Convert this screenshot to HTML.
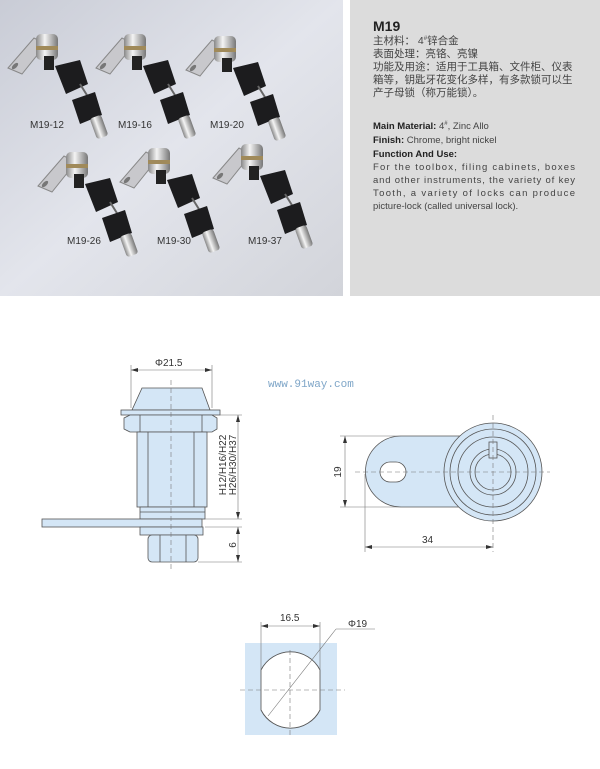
<!DOCTYPE html>
<html><head><meta charset="utf-8"><style>
body{margin:0;width:600px;height:769px;background:#fff;overflow:hidden;font-family:"Liberation Sans","Noto Sans CJK SC",sans-serif}
</style></head><body>
<svg width="600" height="769" viewBox="0 0 600 769" xmlns="http://www.w3.org/2000/svg" style="position:absolute;left:0;top:0">
<defs>
<linearGradient id="bg" x1="0" y1="0" x2="1" y2="1"><stop offset="0" stop-color="#c9ccd6"/><stop offset="0.5" stop-color="#e3e5ec"/><stop offset="1" stop-color="#d2d4da"/></linearGradient>
<linearGradient id="met" x1="0" y1="0" x2="1" y2="0"><stop offset="0" stop-color="#888"/><stop offset="0.4" stop-color="#f4f4f4"/><stop offset="1" stop-color="#777"/></linearGradient>
<g id="lock">
<path d="M8,68 L34,38 L46,44 L22,74 Z" fill="#c8c8cc" stroke="#888" stroke-width="1"/>
<ellipse cx="15" cy="66" rx="4" ry="2" fill="#777" transform="rotate(-45 15 66)"/>
<rect x="36" y="34" width="22" height="26" rx="5" fill="url(#met)"/>
<rect x="36" y="46" width="22" height="4" fill="#a08a5a"/>
<rect x="44" y="56" width="10" height="14" fill="#222"/>
<path d="M55,66 L80,60 L88,84 L66,94 Z" fill="#1c1c1e"/>
<line x1="80" y1="84" x2="90" y2="100" stroke="#666" stroke-width="2"/>
<path d="M72,100 L95,92 L102,115 L80,124 Z" fill="#1c1c1e"/>
<rect x="93" y="116" width="12" height="22" rx="3" fill="url(#met)" transform="rotate(-20 99 127)"/>
</g>
</defs>
<rect x="0" y="0" width="343" height="296" fill="url(#bg)"/>
<rect x="350" y="0" width="250" height="296" fill="#dcdcdc"/>
<use href="#lock" x="0" y="0"/>
<use href="#lock" x="88" y="0"/>
<use href="#lock" x="178" y="2"/>
<use href="#lock" x="30" y="118"/>
<use href="#lock" x="112" y="114"/>
<use href="#lock" x="205" y="110"/>
<g font-size="10" fill="#333">
<text x="30" y="128">M19-12</text><text x="118" y="128">M19-16</text><text x="210" y="128">M19-20</text>
<text x="67" y="244">M19-26</text><text x="157" y="244">M19-30</text><text x="248" y="244">M19-37</text>
</g>
<g fill="#444" font-size="10.5">
<text x="373" y="31" font-size="14" font-weight="bold" fill="#222">M19</text>
<text x="373" y="44">主材料：   4<tspan font-size="6" dy="-4">#</tspan><tspan dy="4">锌合金</tspan></text>
<text x="373" y="57">表面处理：亮铬、亮镍</text>
<text x="373" y="70">功能及用途：适用于工具箱、文件柜、仪表</text>
<text x="373" y="83">箱等，钥匙牙花变化多样，有多款锁可以生</text>
<text x="373" y="96">产子母锁（称万能锁）。</text>
<g font-size="9.5">
<text x="373" y="129"><tspan font-weight="bold" fill="#222">Main Material:</tspan> 4<tspan font-size="6" dy="-4">#</tspan><tspan dy="4">, Zinc Allo</tspan></text>
<text x="373" y="143"><tspan font-weight="bold" fill="#222">Finish:</tspan>  Chrome, bright nickel</text>
<text x="373" y="157" font-weight="bold" fill="#222">Function And Use:</text>
<text x="373" y="170" textLength="202">For the toolbox, filing cabinets, boxes</text>
<text x="373" y="183" textLength="202">and other instruments, the variety of key</text>
<text x="373" y="196" textLength="202">Tooth, a variety of locks can produce</text>
<text x="373" y="209">picture-lock (called universal lock).</text>
</g></g>

<!-- left drawing -->
<g stroke="#555" stroke-width="0.8" fill="#d4e6f6">
<path d="M142,388 L202,388 L210,410 L132,410 Z"/>
<rect x="121" y="410" width="99" height="5"/>
<path d="M124,418 L130,415 L212,415 L217,418 L217,429 L212,432 L130,432 L124,429 Z"/>
<line x1="140" y1="415" x2="140" y2="432"/><line x1="202" y1="415" x2="202" y2="432"/>
<rect x="137" y="432" width="70" height="75"/>
<line x1="148" y1="432" x2="148" y2="507"/><line x1="194" y1="432" x2="194" y2="507"/>
<rect x="140" y="507" width="65" height="12"/>
<line x1="140" y1="512" x2="205" y2="512"/>
<rect x="42" y="519" width="160" height="8"/>
<rect x="140" y="527" width="63" height="8"/>
<rect x="148" y="535" width="50" height="27" rx="4"/>
<line x1="160" y1="535" x2="160" y2="562"/><line x1="186" y1="535" x2="186" y2="562"/>
</g>
<g stroke="#777" stroke-width="0.6" fill="none">
<line x1="171" y1="380" x2="171" y2="570" stroke-dasharray="5,3"/>
<line x1="131" y1="365" x2="131" y2="408"/><line x1="212" y1="365" x2="212" y2="408"/>
<line x1="131" y1="370" x2="212" y2="370"/>
<line x1="220" y1="415" x2="242" y2="415"/><line x1="205" y1="519" x2="242" y2="519"/>
<line x1="205" y1="527" x2="242" y2="527"/><line x1="198" y1="562" x2="242" y2="562"/>
<line x1="238" y1="415" x2="238" y2="519"/><line x1="238" y1="527" x2="238" y2="562"/>
</g>
<g fill="#333">
<path d="M131,370 l7,-2 v4z M212,370 l-7,-2 v4z M238,415 l-2,7 h4z M238,519 l-2,-7 h4z M238,527 l-2,7 h4z M238,562 l-2,-7 h4z"/>
</g>
<text x="155" y="366" font-size="10" fill="#333">Φ21.5</text>
<text transform="translate(226,465) rotate(-90)" text-anchor="middle" font-size="10" fill="#333">H12/H16/H22</text>
<text transform="translate(236,465) rotate(-90)" text-anchor="middle" font-size="10" fill="#333">H26/H30/H37</text>
<text transform="translate(236,545) rotate(-90)" text-anchor="middle" font-size="10" fill="#333">6</text>
<text x="268" y="387" font-family="Liberation Mono,monospace" font-size="11" fill="#7fa6c8">www.91way.com</text>

<!-- right drawing -->
<g stroke="#555" stroke-width="0.8" fill="#d4e6f6">
<path d="M401,436 L480,436 L480,507 L401,507 A35.5,35.5 0 0 1 401,436 Z"/>
<rect x="380" y="462" width="26" height="20" rx="10" fill="#fff"/>
<circle cx="493" cy="472" r="49"/>
<circle cx="493" cy="472" r="43"/>
<circle cx="493" cy="472" r="35"/>
<circle cx="493" cy="472" r="23"/>
<circle cx="493" cy="472" r="18"/>
<rect x="489" y="442" width="8" height="16"/>
</g>
<g stroke="#777" stroke-width="0.6" fill="none">
<line x1="355" y1="472" x2="550" y2="472" stroke-dasharray="5,3"/>
<line x1="493" y1="415" x2="493" y2="552" stroke-dasharray="5,3"/>
<line x1="340" y1="436" x2="401" y2="436"/><line x1="340" y1="507" x2="401" y2="507"/>
<line x1="345" y1="436" x2="345" y2="507"/>
<line x1="365" y1="474" x2="365" y2="552"/>
<line x1="365" y1="547" x2="493" y2="547"/>
</g>
<path d="M345,436 l-2,7 h4z M345,507 l-2,-7 h4z M365,547 l7,-2 v4z M493,547 l-7,-2 v4z" fill="#333"/>
<text transform="translate(341,472) rotate(-90)" text-anchor="middle" font-size="10" fill="#333">19</text>
<text x="422" y="543" font-size="10" fill="#333">34</text>

<!-- bottom drawing -->
<path d="M245,643 L337,643 L337,735 L245,735 Z" fill="#d4e6f6"/>
<path d="M261,670 A33,33 0 0 1 320,670 L320,710 A33,33 0 0 1 261,710 Z" fill="#fff" stroke="#555" stroke-width="0.9"/>
<g stroke="#777" stroke-width="0.6" fill="none">
<line x1="290" y1="650" x2="290" y2="735" stroke-dasharray="5,3"/>
<line x1="240" y1="690" x2="345" y2="690" stroke-dasharray="5,3"/>
<line x1="261" y1="622" x2="261" y2="710"/><line x1="320" y1="622" x2="320" y2="710"/>
<line x1="261" y1="626" x2="320" y2="626"/>
<line x1="375" y1="629" x2="336" y2="629"/><line x1="336" y1="629" x2="268" y2="716"/>
</g>
<path d="M261,626 l7,-2 v4z M320,626 l-7,-2 v4z" fill="#333"/>
<text x="280" y="621" font-size="10" fill="#333">16.5</text>
<text x="348" y="627" font-size="10" fill="#333">Φ19</text>
</svg>
</body></html>
